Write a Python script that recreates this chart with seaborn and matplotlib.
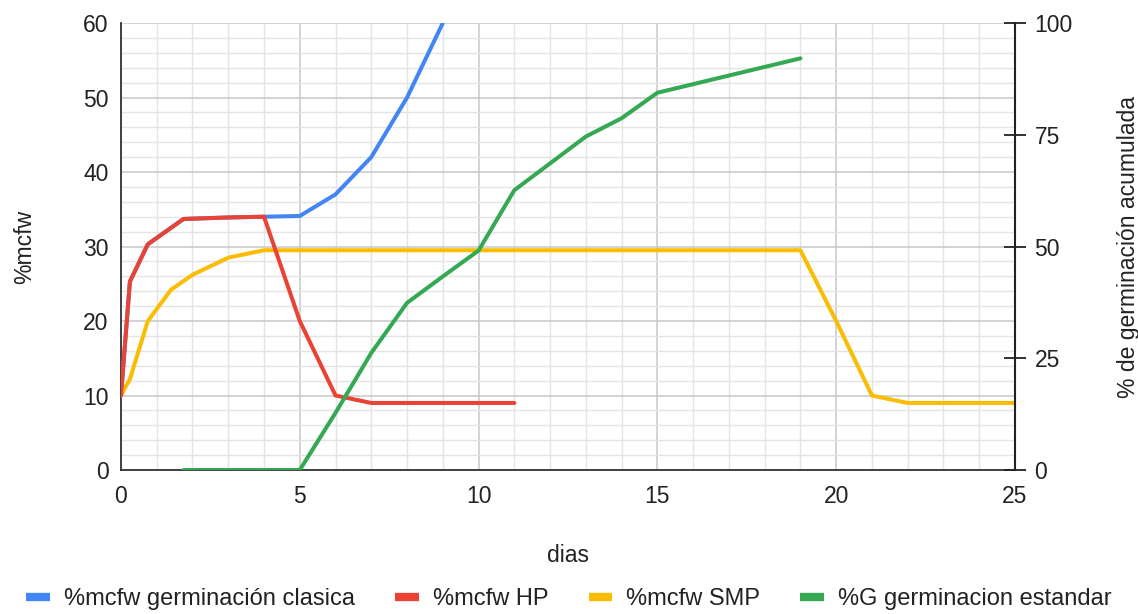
import matplotlib
matplotlib.use("Agg")
import matplotlib.pyplot as plt
import seaborn as sns
import pandas as pd
from matplotlib.lines import Line2D
from matplotlib.ticker import MultipleLocator

# ---- data ----
clasica_x = [0, 0.25, 0.75, 1.75, 3, 4, 5, 6, 7, 8, 9]
clasica_y = [10, 25.3, 30.3, 33.7, 33.9, 34.0, 34.1, 37.0, 42.0, 50.0, 60.0]

hp_x = [0, 0.25, 0.75, 1.75, 3, 4, 5, 6, 7, 8, 9, 10, 11]
hp_y = [10, 25.3, 30.3, 33.7, 33.9, 34.0, 20.0, 10.0, 9.0, 9.0, 9.0, 9.0, 9.0]

smp_x = [0, 0.25, 0.75, 1.4, 2, 3, 4, 5, 10, 15, 19, 20, 21, 22, 23, 24, 25]
smp_y = [10, 12.2, 20.0, 24.2, 26.2, 28.5, 29.5, 29.5, 29.5, 29.5, 29.5, 20.0, 10.0, 9.0, 9.0, 9.0, 9.0]

g_x = [1.75, 3, 4, 5, 6, 7, 8, 9, 10, 11, 12, 13, 14, 15, 19]
g_y = [0, 0, 0, 0, 12.8, 26.2, 37.4, 43.3, 49.1, 62.6, 68.6, 74.6, 78.7, 84.4, 92.1]

labels = ["%mcfw germinación clasica", "%mcfw HP", "%mcfw SMP", "%G germinacion estandar"]
colors = ["#4285F4", "#EA4335", "#FBBC04", "#34A853"]

sns.set_theme(style="white")
plt.rcParams['font.family'] = ['Liberation Sans', 'DejaVu Sans']

fig = plt.figure(figsize=(11.38, 6.14), dpi=100)
ax = fig.add_axes([0.1063, 0.2345, 0.7856, 0.728])
ax2 = ax.twinx()

lw = 2.9
df1 = pd.DataFrame({"x": clasica_x, "y": clasica_y})
df2 = pd.DataFrame({"x": hp_x, "y": hp_y})
df3 = pd.DataFrame({"x": smp_x, "y": smp_y})
df4 = pd.DataFrame({"x": g_x, "y": g_y})

sns.lineplot(data=df1, x="x", y="y", ax=ax, color=colors[0], lw=lw, estimator=None, sort=False, zorder=3)
sns.lineplot(data=df2, x="x", y="y", ax=ax, color=colors[1], lw=lw, estimator=None, sort=False, zorder=4)
sns.lineplot(data=df3, x="x", y="y", ax=ax, color=colors[2], lw=lw, estimator=None, sort=False, zorder=3)
sns.lineplot(data=df4, x="x", y="y", ax=ax2, color=colors[3], lw=lw, estimator=None, sort=False, zorder=3)

ax.set_xlim(0, 25)
ax.set_ylim(0, 60)
ax2.set_ylim(0, 100)

ax.xaxis.set_major_locator(MultipleLocator(5))
ax.xaxis.set_minor_locator(MultipleLocator(1))
ax.yaxis.set_major_locator(MultipleLocator(10))
ax.yaxis.set_minor_locator(MultipleLocator(2))
ax.grid(which="major", color="#c8c8c8", lw=1.1, zorder=0)
ax.grid(which="minor", color="#e4e4e4", lw=1.0, zorder=0)
ax.set_axisbelow(True)

ax2.set_yticks([0, 25, 50, 75, 100])
ax2.grid(False)

fs = 16.5
txtc = "#222222"
ax.tick_params(axis="both", which="both", length=0, labelsize=fs, labelcolor=txtc)
ax.tick_params(axis="x", pad=11)
ax.tick_params(axis="y", pad=9)
ax2.tick_params(axis="y", which="major", direction="inout", length=16, width=1.3,
                color="#222222", labelsize=fs, labelcolor=txtc, pad=6)

for s in ["top", "right"]:
    ax.spines[s].set_visible(False)
for s in ["top", "left", "bottom"]:
    ax2.spines[s].set_visible(False)
ax.spines["left"].set_color("#333333")
ax.spines["left"].set_linewidth(1.3)
ax.spines["bottom"].set_color("#333333")
ax.spines["bottom"].set_linewidth(1.3)
ax2.spines["right"].set_color("#222222")
ax2.spines["right"].set_linewidth(1.5)

ax.set_xlabel("dias", fontsize=fs, color=txtc, labelpad=26)
ax.set_ylabel("%mcfw", fontsize=fs, color=txtc, labelpad=34)
ax2.set_ylabel("% de germinación acumulada", fontsize=fs, color=txtc, labelpad=32)

handles = [Line2D([0], [0], color=c, lw=6, solid_capstyle="butt") for c in colors]
fig.legend(handles, labels, loc="center", bbox_to_anchor=(0.5, 0.024), ncol=4,
           frameon=False, fontsize=17, handlelength=1.0, handletextpad=0.6, columnspacing=1.7,
           labelcolor=txtc)

fig.savefig("out.png", dpi=100)
